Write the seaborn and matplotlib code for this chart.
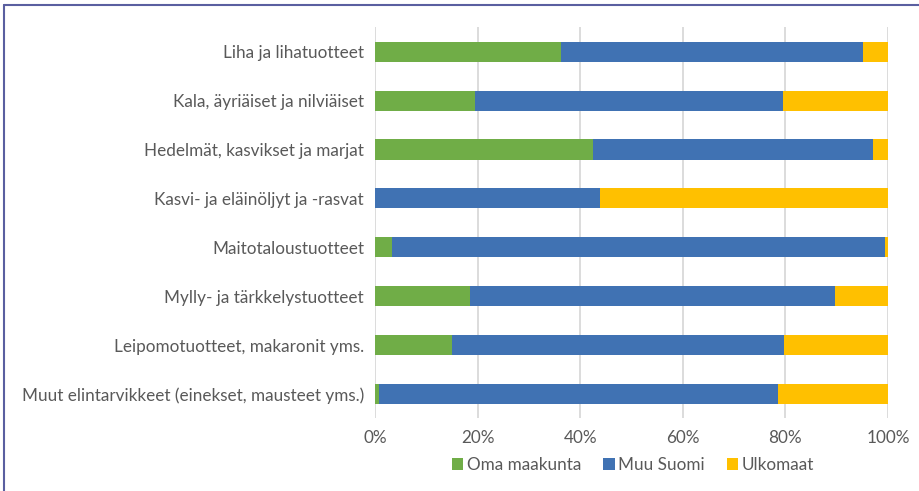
import numpy as np
import pandas as pd
import matplotlib
matplotlib.use("Agg")
import matplotlib.pyplot as plt
from matplotlib.lines import Line2D
from matplotlib.patches import Patch
import seaborn as sns

# Data (share of food purchases by origin, %)
categories = [
    "Liha ja lihatuotteet",
    "Kala, äyriäiset ja nilviäiset",
    "Hedelmät, kasvikset ja marjat",
    "Kasvi- ja eläinöljyt ja -rasvat",
    "Maitotaloustuotteet",
    "Mylly- ja tärkkelystuotteet",
    "Leipomotuotteet, makaronit yms.",
    "Muut elintarvikkeet (einekset, mausteet yms.)",
]
oma_maakunta = [36.2, 19.5, 42.5, 0.0, 3.3, 18.6, 15.1, 0.7]
muu_suomi = [58.9, 60.1, 54.6, 43.8, 96.1, 71.1, 64.6, 77.8]
ulkomaat = [4.9, 20.4, 2.9, 56.2, 0.6, 10.3, 20.3, 21.5]
series_names = ["Oma maakunta", "Muu Suomi", "Ulkomaat"]
colors = ["#70AD47", "#4072B3", "#FFC000"]
text_color = "#595959"

df = pd.DataFrame({
    "category": categories,
    "Oma maakunta": oma_maakunta,
    "Muu Suomi": muu_suomi,
    "Ulkomaat": ulkomaat,
})
# cumulative ends for stacking
df["end_oma"] = df["Oma maakunta"]
df["end_muu"] = df["end_oma"] + df["Muu Suomi"]
df["end_ulko"] = df["end_muu"] + df["Ulkomaat"]

sns.set_theme(style="white")
plt.rcParams["font.family"] = ["Lato", "DejaVu Sans"]
fs = 12.3

fig = plt.figure(figsize=(9.19, 4.91), dpi=100)
ax = fig.add_axes([375 / 919, 1 - 418.4 / 491, 513 / 919, 391.1 / 491])

# draw from the longest (total) to the shortest so they overlay as a stack
for col, color in zip(["end_ulko", "end_muu", "end_oma"], colors[::-1]):
    sns.barplot(data=df, x=col, y="category", color=color, width=0.41,
                linewidth=0, saturation=1, ax=ax, zorder=3)

ax.set_xlim(0, 100)
ax.set_xticks(np.arange(0, 101, 20))
ax.set_xticklabels([f"{v}%" for v in range(0, 101, 20)])
ax.set_xlabel("")
ax.set_ylabel("")
ax.grid(axis="x", color="#d9d9d9", linewidth=1.3, zorder=0)
ax.grid(axis="y", visible=False)
for s in ax.spines.values():
    s.set_visible(False)
ax.tick_params(axis="both", length=0, labelsize=fs, colors=text_color)
ax.tick_params(axis="y", pad=8)
ax.tick_params(axis="x", pad=8)

handles = [Patch(facecolor=c, edgecolor="none") for c in colors]
leg = fig.legend(handles, series_names, loc="center", ncol=3,
                 bbox_to_anchor=(633 / 919, 1 - 465 / 491), frameon=False,
                 fontsize=fs, handlelength=0.65, handleheight=0.65,
                 handletextpad=0.2, columnspacing=1.3)
for t in leg.get_texts():
    t.set_color(text_color)

# frame edges visible in the original (top and left)
fig.add_artist(Line2D([3.5 / 919, 1], [1 - 4.5 / 491, 1 - 4.5 / 491],
                      color="#5A5FA0", linewidth=1.5, transform=fig.transFigure))
fig.add_artist(Line2D([3.5 / 919, 3.5 / 919], [0, 1 - 4.5 / 491],
                      color="#5A5FA0", linewidth=1.5, transform=fig.transFigure))

fig.savefig("out.png", dpi=100)
plt.close(fig)
